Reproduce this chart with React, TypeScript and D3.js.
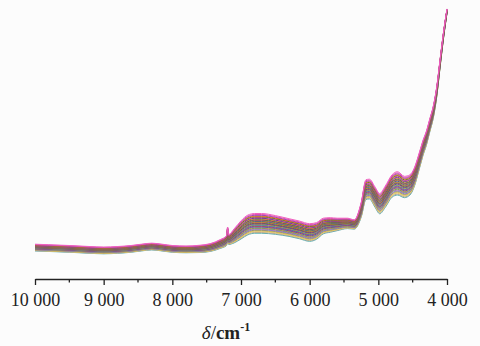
import { useEffect, useRef } from "react";
import * as d3 from "d3";

// wavenumber grid (cm-1) and mean spectrum / band half-width
const wavenumbers = [
  10000, 9800, 9500, 9200, 9000, 8800, 8600, 8450, 8300, 8150, 8000, 7800, 7600, 7450, 7300,
  7210, 7195, 7180, 7100, 7000, 6900, 6800, 6700, 6500, 6300, 6150, 6000, 5900, 5800, 5700,
  5600, 5450, 5350, 5250, 5180, 5130, 5050, 4980, 4900, 4800, 4720, 4620, 4540, 4480, 4400,
  4350, 4300, 4250, 4200, 4150, 4100, 4050, 4000,
];
const meanAbs = [
  0.067, 0.065, 0.062, 0.058, 0.056, 0.058, 0.062, 0.067, 0.071, 0.067, 0.062, 0.06, 0.062,
  0.067, 0.081, 0.094, 0.127, 0.098, 0.112, 0.135, 0.154, 0.16, 0.16, 0.154, 0.144, 0.135,
  0.125, 0.131, 0.15, 0.154, 0.156, 0.16, 0.156, 0.212, 0.29, 0.292, 0.262, 0.236, 0.262,
  0.304, 0.314, 0.3, 0.308, 0.335, 0.404, 0.45, 0.488, 0.538, 0.588, 0.665, 0.777, 0.885, 0.977,
];
const spreadAbs = [
  0.013, 0.013, 0.013, 0.013, 0.013, 0.013, 0.013, 0.013, 0.013, 0.013, 0.013, 0.013, 0.014,
  0.015, 0.017, 0.019, 0.019, 0.019, 0.027, 0.035, 0.038, 0.038, 0.038, 0.036, 0.034, 0.034,
  0.034, 0.032, 0.03, 0.028, 0.024, 0.02, 0.018, 0.028, 0.038, 0.038, 0.039, 0.039, 0.041,
  0.043, 0.045, 0.041, 0.039, 0.036, 0.031, 0.029, 0.027, 0.025, 0.023, 0.019, 0.015, 0.012, 0.008,
];

// position of each sample inside the band (-1 = lowest, 1 = highest)
const sampleCoef = [
  -1.0, -0.92, -0.85, -0.78, -0.7, -0.64, -0.57, -0.5, -0.44, -0.37, -0.3, -0.25, -0.18, -0.12,
  -0.06, 0.0, 0.06, 0.12, 0.19, 0.25, 0.32, 0.38, 0.45, 0.52, 0.6, 0.67, 0.74, 0.82, 0.9, 1.0,
];
const sampleColors = [
  "#5fb0b0", "#a0a0a0", "#e8d070", "#d8b860", "#a8a040", "#8080d0", "#b070b0", "#60a060",
  "#d09040", "#4060c0", "#c04040", "#8050b0", "#309090", "#d0a020", "#5050b0", "#a03070",
  "#409040", "#e07020", "#3050c0", "#909020", "#c03060", "#208060", "#f08020", "#6030a0",
  "#d040a0", "#508020", "#f07010", "#9040c0", "#e050b0", "#f060c0",
];

const xTicks = [10000, 9000, 8000, 7000, 6000, 5000, 4000];
const xMinorTicks = [9500, 8500, 7500, 6500, 5500, 4500];

const W = 480;
const H = 346;
const FONT = "'Liberation Serif', 'Times New Roman', serif";

export default function App() {
  const svgRef = useRef<SVGSVGElement>(null);

  useEffect(() => {
    if (!svgRef.current) return;
    const svg = d3.select(svgRef.current);
    svg.selectAll("*").remove();

    const margin = { left: 35, right: 33 };
    const axisY = 279;

    const x = d3.scaleLinear().domain([10000, 4000]).range([margin.left, W - margin.right]);
    const y = d3.scaleLinear().domain([0, 1]).range([265, 5]);

    svg.append("rect").attr("width", W).attr("height", H).attr("fill", "#fcfcfc");

    const line = d3
      .line<[number, number]>()
      .x((d) => x(d[0]))
      .y((d) => y(d[1]))
      .curve(d3.curveMonotoneX);

    const lines = svg.append("g").attr("fill", "none");
    sampleCoef.forEach((c, i) => {
      const pts = wavenumbers.map((wn, j) => [wn, meanAbs[j] + c * spreadAbs[j]] as [number, number]);
      lines
        .append("path")
        .attr("d", line(pts))
        .attr("stroke", sampleColors[i % sampleColors.length])
        .attr("stroke-width", 1);
    });

    const axis = svg.append("g").attr("transform", `translate(0,${axisY})`);
    axis.call(
      d3
        .axisBottom(x)
        .tickValues(xTicks)
        .tickSize(6)
        .tickSizeOuter(0)
        .tickPadding(8)
        .tickFormat((d) => `${Math.floor(+d / 1000)} 000`)
    );
    axis.select(".domain").attr("stroke", "#222").attr("stroke-width", 1.3);
    axis.selectAll(".tick line").attr("stroke", "#222").attr("stroke-width", 1.3);
    axis
      .selectAll(".tick text")
      .attr("fill", "#222")
      .style("font-family", FONT)
      .style("font-size", "18px");

    axis
      .selectAll(".minor")
      .data(xMinorTicks)
      .join("line")
      .attr("x1", (d) => x(d))
      .attr("x2", (d) => x(d))
      .attr("y1", 0)
      .attr("y2", 3.5)
      .attr("stroke", "#222")
      .attr("stroke-width", 1.3);

    const label = svg
      .append("text")
      .attr("x", 226)
      .attr("y", 339)
      .attr("text-anchor", "middle")
      .attr("fill", "#222")
      .style("font-family", FONT)
      .style("font-size", "19px");
    label.append("tspan").style("font-style", "italic").text("δ");
    label.append("tspan").text("/");
    label.append("tspan").style("font-weight", "bold").text("cm");
    label
      .append("tspan")
      .attr("dy", -8)
      .style("font-size", "12px")
      .style("font-weight", "bold")
      .text("-1");
  }, []);

  return (
    <div style={{ position: "fixed", left: 0, top: 0, width: W, height: H }}>
      <svg ref={svgRef} width={W} height={H} style={{ display: "block" }} />
    </div>
  );
}
